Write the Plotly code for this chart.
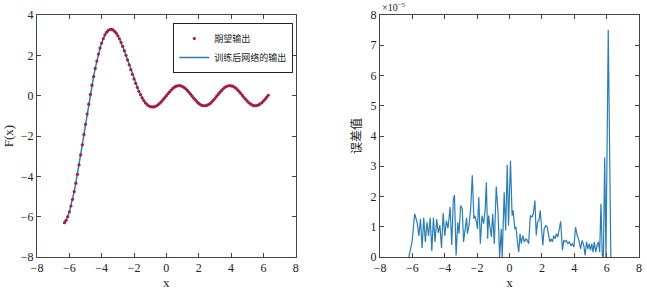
import plotly.graph_objects as go

# ---------------- data ----------------
x_vals = [-6.3, -6.2, -6.1, -6.0, -5.9, -5.8, -5.7, -5.6, -5.5, -5.4, -5.3, -5.2, -5.1, -5.0,
          -4.9, -4.8, -4.7, -4.6, -4.5, -4.4, -4.3, -4.2, -4.1, -4.0, -3.9, -3.8, -3.7, -3.6,
          -3.5, -3.4, -3.3, -3.2, -3.1, -3.0, -2.9, -2.8, -2.7, -2.6, -2.5, -2.4, -2.3, -2.2,
          -2.1, -2.0, -1.9, -1.8, -1.7, -1.6, -1.5, -1.4, -1.3, -1.2, -1.1, -1.0, -0.9, -0.8,
          -0.7, -0.6, -0.5, -0.4, -0.3, -0.2, -0.1, 0.0, 0.1, 0.2, 0.3, 0.4, 0.5, 0.6, 0.7,
          0.8, 0.9, 1.0, 1.1, 1.2, 1.3, 1.4, 1.5, 1.6, 1.7, 1.8, 1.9, 2.0, 2.1, 2.2, 2.3, 2.4,
          2.5, 2.6, 2.7, 2.8, 2.9, 3.0, 3.1, 3.2, 3.3, 3.4, 3.5, 3.6, 3.7, 3.8, 3.9, 4.0, 4.1,
          4.2, 4.3, 4.4, 4.5, 4.6, 4.7, 4.8, 4.9, 5.0, 5.1, 5.2, 5.3, 5.4, 5.5, 5.6, 5.7, 5.8,
          5.9, 6.0, 6.1, 6.2, 6.3]
desired = [-6.30, -6.18, -6.00, -5.76, -5.47, -5.14, -4.76, -4.34, -3.90, -3.43, -2.94, -2.44,
           -1.93, -1.42, -0.91, -0.42, 0.06, 0.52, 0.95, 1.35, 1.72, 2.06, 2.36, 2.61, 2.83,
           3.01, 3.14, 3.23, 3.28, 3.29, 3.26, 3.19, 3.10, 2.97, 2.82, 2.64, 2.44, 2.23, 2.00,
           1.77, 1.53, 1.29, 1.06, 0.83, 0.61, 0.41, 0.22, 0.05, -0.11, -0.24, -0.35, -0.43,
           -0.50, -0.54, -0.56, -0.56, -0.54, -0.50, -0.44, -0.37, -0.29, -0.20, -0.10, 0.00,
           0.10, 0.19, 0.28, 0.36, 0.42, 0.47, 0.49, 0.50, 0.49, 0.45, 0.40, 0.34, 0.26, 0.17,
           0.07, -0.03, -0.13, -0.22, -0.31, -0.38, -0.44, -0.48, -0.50, -0.50, -0.48, -0.44,
           -0.39, -0.32, -0.23, -0.14, -0.04, 0.06, 0.16, 0.25, 0.33, 0.40, 0.45, 0.48, 0.50,
           0.49, 0.47, 0.43, 0.37, 0.29, 0.21, 0.11, 0.01, -0.09, -0.18, -0.27, -0.35, -0.41,
           -0.46, -0.49, -0.50, -0.49, -0.46, -0.41, -0.35, -0.27, -0.18, -0.08, 0.02]
trained = desired  # network output equals desired output to within ~1e-5

err_x = [-6.22, -6.02, -5.86, -5.71, -5.6, -5.5, -5.4, -5.3, -5.2, -5.1, -5.0, -4.9, -4.8,
         -4.7, -4.6, -4.5, -4.4, -4.3, -4.2, -4.1, -4.0, -3.9, -3.8, -3.67, -3.57, -3.47,
         -3.4, -3.3, -3.2, -3.12, -3.02, -2.92, -2.84, -2.75, -2.65, -2.6, -2.5, -2.4, -2.3,
         -2.2, -2.14, -2.04, -1.98, -1.9, -1.8, -1.7, -1.6, -1.5, -1.43, -1.35, -1.29, -1.22,
         -1.12, -1.04, -0.94, -0.82, -0.71, -0.61, -0.51, -0.45, -0.33, -0.24, -0.14, -0.06,
         0.06, 0.16, 0.22, 0.33, 0.4, 0.49, 0.57, 0.65, 0.73, 0.82, 0.92, 1.02, 1.1, 1.18,
         1.29, 1.39, 1.47, 1.57, 1.65, 1.73, 1.82, 1.9, 1.98, 2.06, 2.14, 2.24, 2.33, 2.41,
         2.49, 2.57, 2.65, 2.73, 2.82, 2.9, 2.98, 3.06, 3.16, 3.27, 3.35, 3.43, 3.51, 3.61,
         3.69, 3.8, 3.88, 3.98, 4.08, 4.18, 4.29, 4.39, 4.49, 4.59, 4.67, 4.76, 4.84, 4.92,
         5.0, 5.08, 5.16, 5.24, 5.33, 5.41, 5.49, 5.57, 5.65, 5.73, 5.8, 5.88, 5.96, 6.1, 6.26]
err_1e5 = [0.0, 0.5, 1.43, 1.15, 0.7, 1.26, 0.3, 1.3, 0.5, 1.15, 0.7, 1.3, 0.2, 1.3, 0.5,
           1.25, 0.8, 1.05, 0.3, 1.45, 0.7, 1.2, 0.95, 1.65, 0.4, 1.9, 2.05, 0.05, 1.15, 0.77,
           1.7, 1.6, 0.5, 0.93, 1.3, 0.77, 1.05, 1.6, 2.7, 1.26, 1.37, 1.15, 0.93, 1.98, 0.44,
           1.37, 1.1, 1.6, 2.47, 0.6, 1.37, 1.04, 0.66, 1.43, 0.44, 2.33, 1.5, 0.0, 0.93, 0.0,
           2.14, 0.88, 3.04, 1.04, 3.18, 1.37, 1.54, 0.93, 1.0, 0.5, 0.16, 0.77, 0.44, 0.71,
           0.5, 0.6, 0.55, 0.44, 1.37, 1.32, 1.43, 1.87, 0.71, 1.15, 1.21, 1.54, 0.82, 0.38,
           0.93, 1.04, 0.99, 0.66, 0.5, 0.6, 0.5, 0.71, 0.6, 0.77, 0.66, 0.88, 1.18, 0.22,
           0.55, 0.5, 0.55, 0.44, 0.5, 0.38, 0.44, 0.33, 0.99, 0.71, 0.55, 0.27, 0.55, 0.38,
           0.05, 0.5, 0.27, 0.44, 0.22, 0.44, 0.16, 0.5, 0.16, 0.38, 0.5, 0.16, 1.76, 0.05,
           0.0, 3.3, 0.0, 7.5, 0.0]

x_ticks = [-8, -6, -4, -2, 0, 2, 4, 6, 8]
y1_ticks = [-8, -6, -4, -2, 0, 2, 4]
y2_ticks = [0, 1, 2, 3, 4, 5, 6, 7, 8]

# ---------------- figure ----------------
LINE_BLUE = "#2a7db5"
DOT_RED = "#a61e40"
SERIF = "Liberation Serif, Times New Roman, serif"
CJK = "Noto Sans CJK SC"

fig = go.Figure()

fig.add_trace(go.Scatter(
    x=x_vals, y=trained, mode="lines", name="训练后网络的输出",
    line=dict(color=LINE_BLUE, width=1.5), xaxis="x", yaxis="y"))
fig.add_trace(go.Scatter(
    x=x_vals, y=desired, mode="markers", name="期望输出",
    marker=dict(color=DOT_RED, size=3.2), xaxis="x", yaxis="y"))
fig.add_trace(go.Scatter(
    x=err_x, y=err_1e5, mode="lines", showlegend=False,
    line=dict(color=LINE_BLUE, width=1.2), xaxis="x2", yaxis="y2"))

axis_common = dict(
    showgrid=False, zeroline=False, showline=True, linecolor="#444", linewidth=1,
    mirror="ticks", ticks="inside", ticklen=4, tickcolor="#444",
    tickfont=dict(family=SERIF, size=12, color="#222"),
)

fig.update_layout(
    width=647, height=290,
    margin=dict(l=37, r=5, t=15, b=33),
    paper_bgcolor="white", plot_bgcolor="white",
    xaxis=dict(domain=[0, 0.4298], range=[-8, 8], tickvals=x_ticks,
               ticktext=[str(t).replace("-", "−") for t in x_ticks],
               title=dict(text="x", font=dict(family=SERIF, size=13, color="#222"), standoff=0),
               anchor="y", **axis_common),
    yaxis=dict(domain=[0, 1], range=[-8, 4], tickvals=y1_ticks,
               ticktext=[str(t).replace("-", "−") for t in y1_ticks],
               title=dict(text="F(x)", font=dict(family=SERIF, size=13, color="#222"), standoff=4),
               anchor="x", **axis_common),
    xaxis2=dict(domain=[0.5698, 1], range=[-8, 8], tickvals=x_ticks,
                ticktext=[str(t).replace("-", "−") for t in x_ticks],
                title=dict(text="x", font=dict(family=SERIF, size=13, color="#222"), standoff=0),
                anchor="y2", **axis_common),
    yaxis2=dict(domain=[0, 1], range=[0, 8], tickvals=y2_ticks,
                ticktext=[str(t) for t in y2_ticks],
                title=dict(text="误差值", font=dict(family=CJK, size=12, color="#222"), standoff=6),
                anchor="x2", **axis_common),
    legend=dict(x=0.2264, y=0.967, xanchor="left", yanchor="top",
                bgcolor="white", bordercolor="#222", borderwidth=1,
                font=dict(family=CJK, size=9, color="#222"),
                traceorder="reversed", itemwidth=30, tracegroupgap=0),
    annotations=[dict(text="×10<sup>−5</sup>", xref="paper", yref="paper",
                      x=0.5698, y=1.0, xanchor="left", yanchor="bottom",
                      showarrow=False, font=dict(family=SERIF, size=10, color="#222"))],
)

fig.write_html("out.html", config={"displayModeBar": False},
               post_script="document.body.style.margin='0';document.body.style.overflow='hidden';")
